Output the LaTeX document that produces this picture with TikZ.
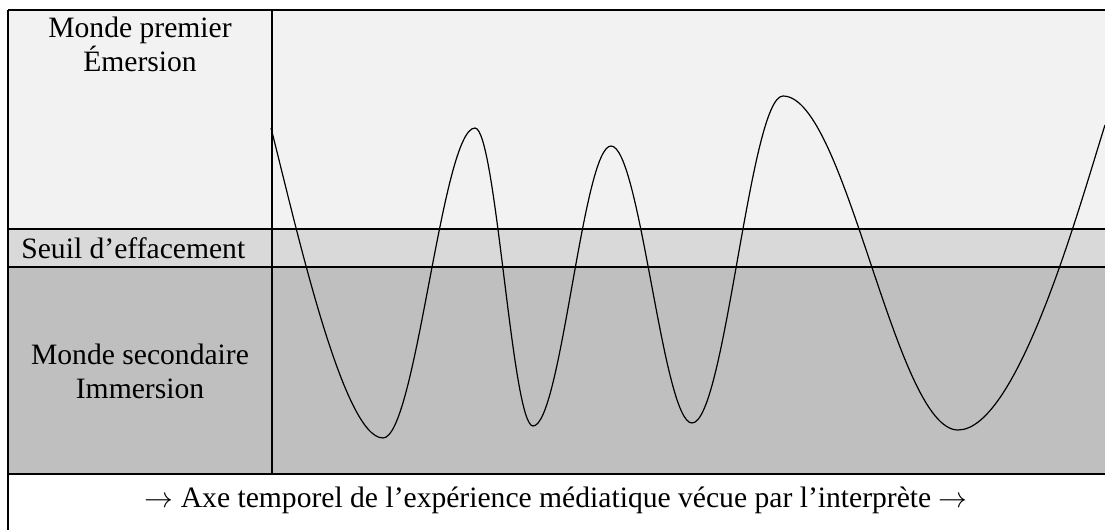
\documentclass[tikz,border=0pt]{standalone}
\usepackage{fontspec}
\setmainfont{Liberation Serif}
\usetikzlibrary{positioning}
\definecolor{Ink}{HTML}{000000}
\definecolor{Emerge}{HTML}{F2F2F2}
\definecolor{Threshold}{HTML}{D9D9D9}
\definecolor{Immerse}{HTML}{BFBFBF}
\tikzset{
  rule/.style={draw=Ink, line width=1pt},
  wave/.style={draw=Ink, line width=0.6pt, line join=round},
  zonetext/.style={
    font=\fontsize{14.8}{17}\selectfont, align=center,
    inner sep=0pt, text=Ink
  }
}

\begin{document}
\begin{tikzpicture}[x=0.5pt,y=-0.5pt]
        \useasboundingbox (0,0) rectangle (1105,530);
        \fill[Emerge] (8,10) rectangle (1105,229);
        \fill[Threshold] (8,229) rectangle (1105,267);
        \fill[Immerse] (8,267) rectangle (1105,474);
        \draw[wave] (271,128) .. controls +(25,98) and +(-40,0) .. (383,438)
          .. controls +(33,0) and +(-33,0) .. (475,128)
          .. controls +(21,0) and +(-21,0) .. (533,426)
          .. controls +(28,0) and +(-28,0) .. (611,146)
          .. controls +(29,0) and +(-29,0) .. (692,423)
          .. controls +(33,0) and +(-33,0) .. (783,96)
          .. controls +(63,0) and +(-63,0) .. (958,430)
          .. controls +(60,0) and +(-25,79) .. (1105,125);
        \draw[rule] (8,10) -- (1105,10);
        \draw[rule] (8,229) -- (1105,229);
        \draw[rule] (8,267) -- (1105,267);
        \draw[rule] (8,474) -- (1105,474);
        \draw[rule] (8,10) -- (8,530);
        \draw[rule] (272,10) -- (272,474);
        \node[zonetext,anchor=base] (primo) at (140,71) {Monde premier\\Émersion};
        \node[zonetext,anchor=base west] (seuil) at (21,258) {Seuil d’effacement};
        \node[zonetext,anchor=base] (secondo) at (140,398) {Monde secondaire\\Immersion};
        \node[zonetext,anchor=base] (axe) at (556,507) {$\rightarrow$ Axe temporel de l’expérience médiatique vécue par l’interprète $\rightarrow$};
      \end{tikzpicture}
\end{document}
